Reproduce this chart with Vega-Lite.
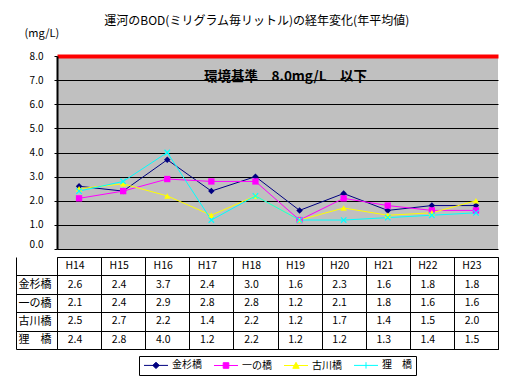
{
  "$schema": "https://vega.github.io/schema/vega-lite/v6.json",
  "padding": {"top": 15, "left": 15, "right": 8, "bottom": 5},
  "background": "white",
  "title": {"text": "運河のBOD(ミリグラム毎リットル)の経年変化(年平均値)", "fontSize": 12, "fontWeight": "normal", "font": "Noto Sans CJK JP", "color": "black", "anchor": "middle", "offset": -1},
  "datasets": {
    "bod": [
      {"year": "H14", "series": "金杉橋", "value": 2.6}, {"year": "H15", "series": "金杉橋", "value": 2.4}, {"year": "H16", "series": "金杉橋", "value": 3.7}, {"year": "H17", "series": "金杉橋", "value": 2.4}, {"year": "H18", "series": "金杉橋", "value": 3.0}, {"year": "H19", "series": "金杉橋", "value": 1.6}, {"year": "H20", "series": "金杉橋", "value": 2.3}, {"year": "H21", "series": "金杉橋", "value": 1.6}, {"year": "H22", "series": "金杉橋", "value": 1.8}, {"year": "H23", "series": "金杉橋", "value": 1.8},
      {"year": "H14", "series": "一の橋", "value": 2.1}, {"year": "H15", "series": "一の橋", "value": 2.4}, {"year": "H16", "series": "一の橋", "value": 2.9}, {"year": "H17", "series": "一の橋", "value": 2.8}, {"year": "H18", "series": "一の橋", "value": 2.8}, {"year": "H19", "series": "一の橋", "value": 1.2}, {"year": "H20", "series": "一の橋", "value": 2.1}, {"year": "H21", "series": "一の橋", "value": 1.8}, {"year": "H22", "series": "一の橋", "value": 1.6}, {"year": "H23", "series": "一の橋", "value": 1.6},
      {"year": "H14", "series": "古川橋", "value": 2.5}, {"year": "H15", "series": "古川橋", "value": 2.7}, {"year": "H16", "series": "古川橋", "value": 2.2}, {"year": "H17", "series": "古川橋", "value": 1.4}, {"year": "H18", "series": "古川橋", "value": 2.2}, {"year": "H19", "series": "古川橋", "value": 1.2}, {"year": "H20", "series": "古川橋", "value": 1.7}, {"year": "H21", "series": "古川橋", "value": 1.4}, {"year": "H22", "series": "古川橋", "value": 1.5}, {"year": "H23", "series": "古川橋", "value": 2.0},
      {"year": "H14", "series": "狸　橋", "value": 2.4}, {"year": "H15", "series": "狸　橋", "value": 2.8}, {"year": "H16", "series": "狸　橋", "value": 4.0}, {"year": "H17", "series": "狸　橋", "value": 1.2}, {"year": "H18", "series": "狸　橋", "value": 2.2}, {"year": "H19", "series": "狸　橋", "value": 1.2}, {"year": "H20", "series": "狸　橋", "value": 1.2}, {"year": "H21", "series": "狸　橋", "value": 1.3}, {"year": "H22", "series": "狸　橋", "value": 1.4}, {"year": "H23", "series": "狸　橋", "value": 1.5}
    ]
  },
  "spacing": 0,
  "vconcat": [
    {
      "width": 441,
      "height": 193,
      "view": {"fill": "#C0C0C0", "stroke": null},
      "data": {"name": "bod"},
      "encoding": {
        "x": {"field": "year", "type": "nominal", "sort": null, "scale": {"paddingInner": 0, "paddingOuter": 0}, "axis": null},
        "y": {"field": "value", "type": "quantitative", "scale": {"domain": [0, 8], "nice": false, "zero": true},
          "axis": {"values": [0, 1, 2, 3, 4, 5, 6, 7, 8], "labelOverlap": false, "format": ".1f", "grid": true,
            "gridColor": {"condition": {"test": "datum.value == 8", "value": "#FF0000"}, "value": "black"},
            "gridWidth": {"condition": {"test": "datum.value == 8", "value": 4}, "value": 1},
            "gridOpacity": 1,
            "domain": true, "domainColor": "black", "domainWidth": 2, "ticks": true, "tickSize": 3, "tickColor": "black", "labelPadding": 11,
            "labelBaseline": {"condition": {"test": "datum.value == 0", "value": "bottom"}, "value": "middle"},
            "labelFontSize": 10, "labelFont": "Noto Sans CJK JP", "labelColor": "black",
            "title": "(mg/L)", "titleAngle": 0, "titleAlign": "left", "titleBaseline": "middle", "titleX": -33, "titleY": -23,
            "titleFontSize": 11, "titleFontWeight": "normal", "titleFont": "Noto Sans CJK JP", "titleColor": "black"}}
      },
      "layer": [
        {
          "mark": {"type": "line", "clip": false},
          "encoding": {
            "color": {"field": "series", "type": "nominal", "scale": {"domain": ["金杉橋", "一の橋", "古川橋", "狸　橋"], "range": ["#000080", "#FF00FF", "#FFFF00", "#00FFFF"]}, "legend": {"title": null}},
            "strokeWidth": {"field": "series", "type": "nominal", "scale": {"domain": ["金杉橋", "一の橋", "古川橋", "狸　橋"], "range": [1, 1, 1.2, 2]}, "legend": null}
          }
        },
        {
          "mark": {"type": "point", "filled": true, "size": 0, "strokeWidth": 1, "opacity": 1},
          "encoding": {
            "color": {"field": "series", "type": "nominal", "legend": {"title": null}},
            "stroke": {"field": "series", "type": "nominal", "scale": {"domain": ["金杉橋", "一の橋", "古川橋", "狸　橋"], "range": ["#000080", "#FF00FF", "#FFFF00", "#00FFFF"]}, "legend": {"title": null}},
            "shape": {"field": "series", "type": "nominal", "scale": {"domain": ["金杉橋", "一の橋", "古川橋", "狸　橋"], "range": ["M-3,0L3,0M0,-0.8L0.8,0L0,0.8L-0.8,0Z", "M-3,0L3,0M-0.7,-0.7L0.7,-0.7L0.7,0.7L-0.7,0.7Z", "M-3,0L3,0M0,-0.8L0.8,0.7L-0.8,0.7Z", "M-3,0L3,0M0,-0.8L0,0.8"]}, "legend": {"title": null}}
          }
        },
        {
          "transform": [{"filter": "datum.series === '金杉橋'"}],
          "mark": {"type": "point", "shape": "diamond", "filled": true, "size": 42, "color": "#000080", "opacity": 1}
        },
        {
          "transform": [{"filter": "datum.series === '一の橋'"}],
          "mark": {"type": "point", "shape": "square", "filled": true, "size": 40, "color": "#FF00FF", "opacity": 1}
        },
        {
          "transform": [{"filter": "datum.series === '古川橋'"}],
          "mark": {"type": "point", "shape": "triangle-up", "filled": true, "size": 40, "color": "#FFFF00", "opacity": 1}
        },
        {
          "transform": [{"filter": "datum.series === '狸　橋'"}],
          "mark": {"type": "point", "shape": "M-1,-1L1,1M-1,1L1,-1", "filled": false, "size": 30, "color": "#00FFFF", "strokeWidth": 1.2, "opacity": 1}
        },
        {
          "transform": [{"filter": "datum.series === '金杉橋' && datum.year === 'H14'"}],
          "mark": {"type": "text", "text": "環境基準　8.0mg/L　以下", "font": "Noto Sans CJK JP", "fontWeight": "bold", "fontSize": 13.5, "dx": 8, "baseline": "middle", "align": "center", "color": "black"},
          "encoding": {
            "x": {"value": {"expr": "width/2"}},
            "y": {"datum": 7.15, "type": "quantitative",
              "axis": {"values": [0, 1, 2, 3, 4, 5, 6, 7, 8], "labelOverlap": false, "format": ".1f", "grid": true,
                "gridColor": {"condition": {"test": "datum.value == 8", "value": "#FF0000"}, "value": "black"},
                "gridWidth": {"condition": {"test": "datum.value == 8", "value": 4}, "value": 1},
                "gridOpacity": 1,
                "domain": true, "domainColor": "black", "domainWidth": 2, "ticks": true, "tickSize": 3, "tickColor": "black", "labelPadding": 11,
                "labelBaseline": {"condition": {"test": "datum.value == 0", "value": "bottom"}, "value": "middle"},
                "labelFontSize": 10, "labelFont": "Noto Sans CJK JP", "labelColor": "black",
                "title": "(mg/L)", "titleAngle": 0, "titleAlign": "left", "titleBaseline": "middle", "titleX": -33, "titleY": -23,
                "titleFontSize": 11, "titleFontWeight": "normal", "titleFont": "Noto Sans CJK JP", "titleColor": "black"}}
          }
        }
      ]
    },
    {
      "width": 441,
      "height": 92,
      "view": {"stroke": "black", "strokeWidth": 1, "fill": "white"},
      "data": {"name": "bod"},
      "layer": [
        {
          "mark": {"type": "text", "fontSize": 10.5, "font": "Noto Sans CJK JP", "dx": -4, "color": "black", "baseline": "middle"},
          "encoding": {
            "x": {"field": "year", "type": "nominal", "sort": null, "scale": {"paddingInner": 0, "paddingOuter": 0},
              "axis": {"title": null, "labels": false, "ticks": false, "domain": false, "grid": true, "gridColor": "black", "gridOpacity": 1, "gridWidth": 1, "tickBand": "extent"}},
            "y": {"field": "series", "type": "nominal", "scale": {"domain": ["hdr", "金杉橋", "一の橋", "古川橋", "狸　橋"], "paddingInner": 0, "paddingOuter": 0},
              "axis": {"title": null, "values": ["金杉橋", "一の橋", "古川橋", "狸　橋"], "tickBand": "extent", "ticks": true, "tickSize": 41, "tickColor": "black", "tickWidth": 1,
                "grid": true, "gridColor": "black", "gridOpacity": 1, "gridWidth": 1, "domain": false,
                "labelAlign": "left", "labelPadding": -2, "labelFontSize": 11, "labelFont": "Noto Sans CJK JP", "labelColor": "black"}},
            "text": {"field": "value", "type": "quantitative", "format": ".1f"}
          }
        },
        {
          "transform": [{"filter": "datum.series === '金杉橋'"}],
          "mark": {"type": "text", "fontSize": 10.5, "font": "Noto Sans CJK JP", "dx": -4, "color": "black", "baseline": "middle"},
          "encoding": {
            "x": {"field": "year", "type": "nominal", "sort": null, "axis": {"title": null, "labels": false, "ticks": false, "domain": false, "grid": true, "gridColor": "black", "gridOpacity": 1, "gridWidth": 1, "tickBand": "extent"}},
            "y": {"datum": "hdr", "type": "nominal", "scale": {"domain": ["hdr", "金杉橋", "一の橋", "古川橋", "狸　橋"], "paddingInner": 0, "paddingOuter": 0}, "axis": null},
            "text": {"field": "year", "type": "nominal"}
          }
        },
        {
          "transform": [{"filter": "datum.year === 'H14'"}],
          "mark": {"type": "text", "text": ""},
          "encoding": {
            "x": {"field": "year", "type": "nominal", "sort": null, "axis": {"title": null, "labels": false, "ticks": false, "domain": false, "grid": true, "gridColor": "black", "gridOpacity": 1, "gridWidth": 1, "tickBand": "extent"}},
            "y": {"field": "series", "type": "nominal", "scale": {"domain": ["金杉橋", "一の橋", "古川橋", "狸　橋"], "rangeMin": {"expr": "height/5"}, "paddingInner": 0, "paddingOuter": 0},
              "axis": {"title": null, "orient": "left", "offset": 41, "domain": true, "domainColor": "black", "domainWidth": 1, "ticks": false, "labels": false, "grid": false}}
          }
        }
      ],
      "resolve": {"scale": {"y": "independent"}, "axis": {"y": "independent"}}
    }
  ],
  "config": {
    "font": "Noto Sans CJK JP",
    "legend": {
      "orient": "none", "legendX": 82, "legendY": 300, "direction": "horizontal", "strokeColor": "black", "padding": 4,
      "labelFontSize": 10, "labelFont": "Noto Sans CJK JP", "labelColor": "black", "symbolSize": 64, "symbolStrokeWidth": 1,
      "symbolOffset": 8, "labelOffset": 11, "columnPadding": 10
    }
  }
}
